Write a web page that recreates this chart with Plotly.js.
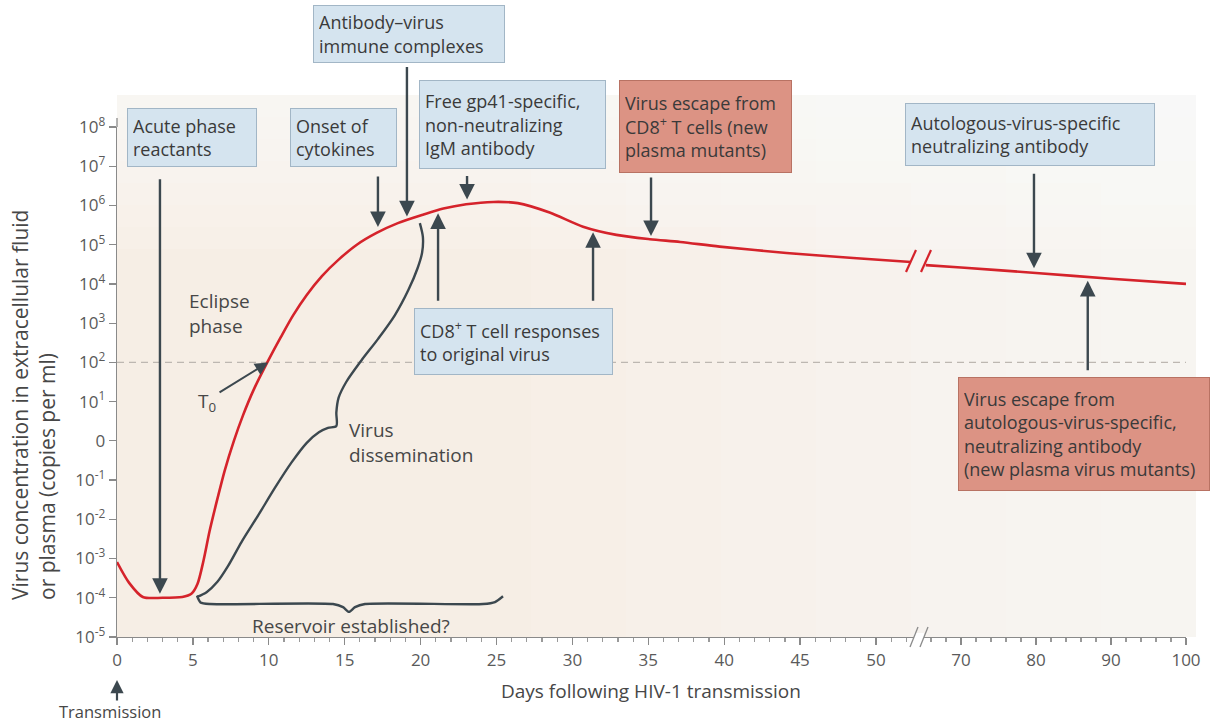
<!DOCTYPE html>
<html><head><meta charset="utf-8">
<script src="https://cdn.plot.ly/plotly-3.0.1.min.js"></script>
<style>html,body{margin:0;padding:0;background:#fff}#chart{width:1216px;height:724px}</style>
</head><body><div id="chart"></div>
<script>
// ---------- data (log10 copies per ml vs days after transmission) ----------
const dayEarly = [0, 0.8, 1.7, 3, 4.3, 4.9, 5.3, 5.7, 6.1, 6.6, 7.1, 7.7, 8.3, 9.0, 9.9, 10.8, 11.6, 12.5, 13.5, 14.6, 15.8, 17.1, 18.5, 20.2, 21.5, 23.0, 24.8, 26.4, 28.5, 30.7, 32.9, 35.1, 37.1, 39.7, 44.1, 48.5, 52.3];
const logLoadEarly = [-3.09, -3.62, -3.98, -4.0, -3.98, -3.9, -3.65, -3.05, -2.3, -1.5, -0.75, 0.0, 0.65, 1.3, 2.0, 2.65, 3.2, 3.72, 4.2, 4.62, 5.0, 5.3, 5.55, 5.77, 5.92, 6.03, 6.09, 6.06, 5.82, 5.46, 5.25, 5.14, 5.07, 4.95, 4.79, 4.66, 4.56];
const dayLate = [65.3, 70, 80, 90, 100];
const logLoadLate = [4.48, 4.42, 4.28, 4.13, 4.0];

// brace: virus dissemination
const disseminationDay = [5.27, 5.9, 6.6, 7.3, 8.2, 9.3, 10.4, 11.5, 12.5, 13.3, 13.9, 14.45, 14.45, 14.6, 15.1, 16.1, 17.2, 18.3, 19.2, 19.8, 20.1, 20.15, 19.95];
const disseminationLog = [-3.98, -3.86, -3.6, -3.2, -2.58, -1.9, -1.2, -0.55, -0.05, 0.22, 0.33, 0.38, 0.72, 1.1, 1.5, 2.05, 2.6, 3.2, 3.85, 4.4, 4.8, 5.2, 5.55];
// brace: reservoir established
const reservoirDay = [5.27, 5.5, 6.13, 14.23, 14.89, 15.28, 15.68, 16.34, 24.11, 24.9, 25.43];
const reservoirLog = [-3.95, -4.12, -4.16, -4.16, -4.24, -4.36, -4.24, -4.16, -4.16, -4.11, -3.96];

const yTickVals = [8, 7, 6, 5, 4, 3, 2, 1, 0, -1, -2, -3, -4, -5];
const yTickText = ['10<sup>8</sup>','10<sup>7</sup>','10<sup>6</sup>','10<sup>5</sup>','10<sup>4</sup>','10<sup>3</sup>','10<sup>2</sup>','10<sup>1</sup>','0','10<sup>-1</sup>','10<sup>-2</sup>','10<sup>-3</sup>','10<sup>-4</sup>','10<sup>-5</sup>'];
const xTicksEarly = [0, 5, 10, 15, 20, 25, 30, 35, 40, 45, 50];
const xTicksLate = [70, 80, 90, 100];
const detectionLimitLog = 2;

// ---------- geometry helpers ----------
const L = 117, R = 1186, T = 127, B = 637;
const PX = x => (x - L) / (R - L);
const PY = y => (B - y) / (B - T);
const splitPx = 918;
const earlyScale = 15.18, lateScale = 7.5;   // px per day
const earlyMax = (splitPx - L) / earlyScale;
const lateMin = 70 - (961 - splitPx) / lateScale;

const FONT = 'Open Sans, Lato, sans-serif';
const RED = '#d5232b', DARK = '#3c484f', TXT = '#474747';

const traces = [
  {x: dayEarly, y: logLoadEarly, xaxis: 'x', yaxis: 'y', mode: 'lines', line: {color: RED, width: 2.6, shape: 'spline', smoothing: 0.8}, hoverinfo: 'skip'},
  {x: dayLate, y: logLoadLate, xaxis: 'x2', yaxis: 'y', mode: 'lines', line: {color: RED, width: 2.6, shape: 'spline', smoothing: 0.8}, hoverinfo: 'skip'},
  {x: disseminationDay, y: disseminationLog, xaxis: 'x', yaxis: 'y', mode: 'lines', line: {color: DARK, width: 2.4, shape: 'spline', smoothing: 0.8}, hoverinfo: 'skip'},
  {x: reservoirDay, y: reservoirLog, xaxis: 'x', yaxis: 'y', mode: 'lines', line: {color: DARK, width: 2.4, shape: 'spline', smoothing: 0.6}, hoverinfo: 'skip'}
];

function box(text, x0, y0, x1, y1, red) {
  const pad = 5;
  return {xref: 'paper', yref: 'paper', x: PX(x0), y: PY(y0), xanchor: 'left', yanchor: 'top',
    text: text, showarrow: false, align: 'left', valign: 'middle',
    width: x1 - x0 - 2 * pad - 2, height: y1 - y0 - 2 * pad - 2,
    bgcolor: red ? '#dc9384' : '#d5e4ef', bordercolor: red ? '#b87263' : '#a2b6c6', borderwidth: 1, borderpad: pad,
    font: {family: FONT, size: 18, color: '#3a3a3a'}};
}
function arrow(xref, x, y, ax, ay, w) {
  return {xref: xref, yref: 'y', x: x, y: y, ax: ax, ay: ay, axref: 'pixel', ayref: 'pixel', text: '',
    showarrow: true, arrowhead: 2, arrowsize: 1.3, arrowwidth: w || 2.4, arrowcolor: DARK, standoff: 0};
}
function label(text, x, y, xa, ya, size) {
  return {xref: 'paper', yref: 'paper', x: PX(x), y: PY(y), xanchor: xa, yanchor: ya, text: text, showarrow: false,
    align: 'left', font: {family: FONT, size: size || 19, color: TXT}};
}

const annotations = [
  arrow('x', 2.83, -3.9, 0, -416),
  arrow('x', 17.19, 5.45, 0, -52),
  arrow('x', 19.1, 5.72, 0, -151),
  arrow('x', 23.06, 6.15, 0, -25),
  arrow('x', 21.15, 5.8, 0, 89),
  arrow('x', 31.36, 5.32, 0, 70),
  arrow('x', 35.18, 5.22, 0, -60),
  arrow('x2', 79.73, 4.4, 0, -96),
  arrow('x2', 86.9, 4.08, 0, 91),
  arrow('x', 9.95, 2.0, -50, 31, 2),
  {xref: 'paper', yref: 'paper', x: 0, y: PY(680), ax: 0, ay: 22, text: '', showarrow: true, arrowhead: 2, arrowsize: 1.2, arrowwidth: 2.2, arrowcolor: DARK, standoff: 0},
  box('Acute phase<br>reactants', 127, 108, 257, 167),
  box('Onset of<br>cytokines', 290, 108, 397, 167),
  box('Antibody–virus<br>immune complexes', 313, 5, 505, 63),
  box('Free gp41-specific,<br>non-neutralizing<br>IgM antibody', 419, 80, 606, 169),
  box('Virus escape from<br>CD8<sup>+</sup> T cells (new<br>plasma mutants)', 619, 80, 792, 173, true),
  box('Autologous-virus-specific<br>neutralizing antibody', 905, 103, 1155, 166),
  box('CD8<sup>+</sup> T cell responses<br>to original virus', 414, 308, 613, 375),
  box('Virus escape from<br>autologous-virus-specific,<br>neutralizing antibody<br>(new plasma virus mutants)', 958, 377, 1210, 491, true),
  label('Eclipse<br>phase', 187, 286, 'left', 'top'),
  label('Virus<br>dissemination', 347, 415, 'left', 'top'),
  label('T<sub>0</sub>', 207, 402, 'center', 'middle'),
  label('Reservoir established?', 351, 626, 'center', 'middle'),
  label('Days following HIV-1 transmission', 651, 691, 'center', 'middle'),
  label('Transmission', 110, 711, 'center', 'middle', 16.5),
  {xref: 'paper', yref: 'paper', x: PX(33), y: PY(405), xanchor: 'center', yanchor: 'middle', textangle: -90, showarrow: false, align: 'left',
    text: 'Virus concentration in extracellular fluid<br>or plasma (copies per ml)', font: {family: FONT, size: 21, color: TXT}}
];

// background gradient (beige fading to white toward top / right)
const shapes = [
  {type: 'rect', xref: 'paper', yref: 'paper', x0: 0, x1: PX(1196), y0: 0, y1: PY(95), fillcolor: '#f6eee5', line: {width: 0}, layer: 'below'}
];
for (let i = 1; i <= 7; i++) {
  shapes.push({type: 'rect', xref: 'paper', yref: 'paper', x0: PX(1196 - i * 95), x1: PX(1196), y0: 0, y1: PY(95), fillcolor: '#ffffff', opacity: 0.11, line: {width: 0}, layer: 'below'});
  shapes.push({type: 'rect', xref: 'paper', yref: 'paper', x0: 0, x1: PX(1196), y0: PY(95 + i * 22), y1: PY(95), fillcolor: '#ffffff', opacity: 0.12, line: {width: 0}, layer: 'below'});
}
shapes.push({type: 'line', xref: 'paper', yref: 'y', x0: 0, x1: 1, y0: detectionLimitLog, y1: detectionLimitLog, line: {color: '#bdb7b1', width: 1.2, dash: '7px,5px'}, layer: 'below'});
// y axis line top extension
shapes.push({type: 'line', xref: 'paper', yref: 'paper', x0: 0, x1: 0, y0: 1, y1: PY(118), line: {color: '#8a8a8a', width: 1.3}});
// gap in the axis line at the break
shapes.push({type: 'rect', xref: 'paper', yref: 'paper', x0: PX(914), x1: PX(924), y0: PY(641), y1: PY(633), fillcolor: '#ffffff', line: {width: 0}, layer: 'above'});
// break marks on curve
[[906, 272, 916, 250], [921, 272, 931, 250]].forEach(s => shapes.push({type: 'line', xref: 'paper', yref: 'paper', x0: PX(s[0]), y0: PY(s[1]), x1: PX(s[2]), y1: PY(s[3]), line: {color: RED, width: 2.2}}));
// break marks on axis
[[910, 647, 918, 627], [920, 647, 928, 627]].forEach(s => shapes.push({type: 'line', xref: 'paper', yref: 'paper', x0: PX(s[0]), y0: PY(s[1]), x1: PX(s[2]), y1: PY(s[3]), line: {color: '#8a8a8a', width: 1.3}}));

const axisCommon = {showgrid: false, zeroline: false, showline: true, linecolor: '#8a8a8a', linewidth: 1.3,
  ticks: 'outside', ticklen: 7, tickcolor: '#8a8a8a', tickwidth: 1.2, tickfont: {family: FONT, size: 17, color: '#5a5a5a'}, fixedrange: true};

const layout = {
  width: 1216, height: 724,
  margin: {l: L, r: 1216 - R, t: T, b: 724 - B},
  paper_bgcolor: '#ffffff', plot_bgcolor: 'rgba(0,0,0,0)',
  showlegend: false,
  font: {family: FONT, color: TXT},
  xaxis: Object.assign({}, axisCommon, {domain: [0, PX(splitPx)], range: [0, earlyMax], tickvals: xTicksEarly, anchor: 'y',
    minor: {dtick: 1, ticklen: 4, tickcolor: '#9a9a9a', ticks: 'outside'}}),
  xaxis2: Object.assign({}, axisCommon, {domain: [PX(splitPx), 1], range: [lateMin, 100], tickvals: xTicksLate, anchor: 'y',
    minor: {dtick: 2, ticklen: 4, tickcolor: '#9a9a9a', ticks: 'outside'}}),
  yaxis: Object.assign({}, axisCommon, {range: [-5, 8], tickvals: yTickVals, ticktext: yTickText, anchor: 'x'}),
  shapes: shapes,
  annotations: annotations
};

Plotly.newPlot('chart', traces, layout, {displayModeBar: false, staticPlot: true});
</script></body></html>
